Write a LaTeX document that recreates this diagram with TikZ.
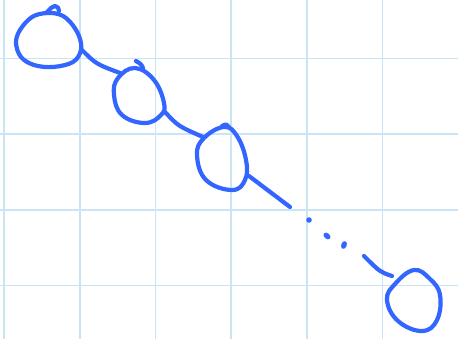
\documentclass[tikz,border=0pt]{standalone}
\begin{document}
\begin{tikzpicture}[x=1pt,y=-1pt,
  gridline/.style={draw=gridblue,line width=1.6pt},
  ink/.style={draw=inkblue,line width=4.2pt,line cap=round,line join=round},
  dotmark/.style={fill=inkblue}]
\definecolor{gridblue}{HTML}{C9E5F5}
\definecolor{inkblue}{HTML}{3366FF}
\useasboundingbox (0,0) rectangle (458,339);
\fill[white] (0,0) rectangle (458,339);
% grid
\foreach \gx in {4,79.7,155.3,231,306.7,382.3}
  \draw[gridline] (\gx,0) -- (\gx,339);
\foreach \gy in {58.5,134.2,209.9,285.6}
  \draw[gridline] (0,\gy) -- (458,\gy);
% circle 1
\draw[ink] plot[smooth cycle,tension=0.6] coordinates {(47,13) (32,17) (20,30) (16,43) (21,57) (34,65) (53,67) (73,62) (81,50) (79,36) (71,23) (61,15)};
\draw[ink] (47,12) .. controls (52,7) .. (55,6) .. controls (58,7) .. (59,11);
% circle 2
\draw[ink] plot[smooth cycle,tension=0.7] coordinates {(135,68) (118,78) (114,95) (122,115) (145,123) (161,115) (164,103) (154,80)};
\draw[ink] (136,61) .. controls (141,64) .. (143,68);
% circle 3
\draw[ink] plot[smooth cycle,tension=0.7] coordinates {(224,127) (204,138) (197,155) (206,180) (232,190) (245,180) (246,160) (237,136)};
\draw[ink] (222,126) .. controls (226,124) .. (229,127);
% circle 4
\draw[ink] plot[smooth cycle,tension=0.7] coordinates {(414,270) (395,284) (387,300) (398,321) (422,331) (437,320) (440,295) (430,279)};
% connectors
\coordinate (c1a) at (82,50); \coordinate (c1b) at (120,73);
\coordinate (c2a) at (165,112); \coordinate (c2b) at (203,137);
\coordinate (c3a) at (249,176); \coordinate (c3b) at (290,207);
\coordinate (c4a) at (364,256); \coordinate (c4b) at (392,276);
\draw[ink] (c1a) .. controls (96,64) .. (c1b);
\draw[ink] (c2a) .. controls (178,126) .. (c2b);
\draw[ink] (c3a) -- (c3b);
\draw[ink] (c4a) .. controls (380,272) .. (c4b);
% dots
\fill[dotmark] (309,220) circle (2.8);
\fill[dotmark,rotate around={-40:(327,236)}] (327,236) ellipse (4 and 2.8);
\fill[dotmark,rotate around={70:(344,245)}] (344,245) ellipse (4 and 2.8);
\end{tikzpicture}
\end{document}
